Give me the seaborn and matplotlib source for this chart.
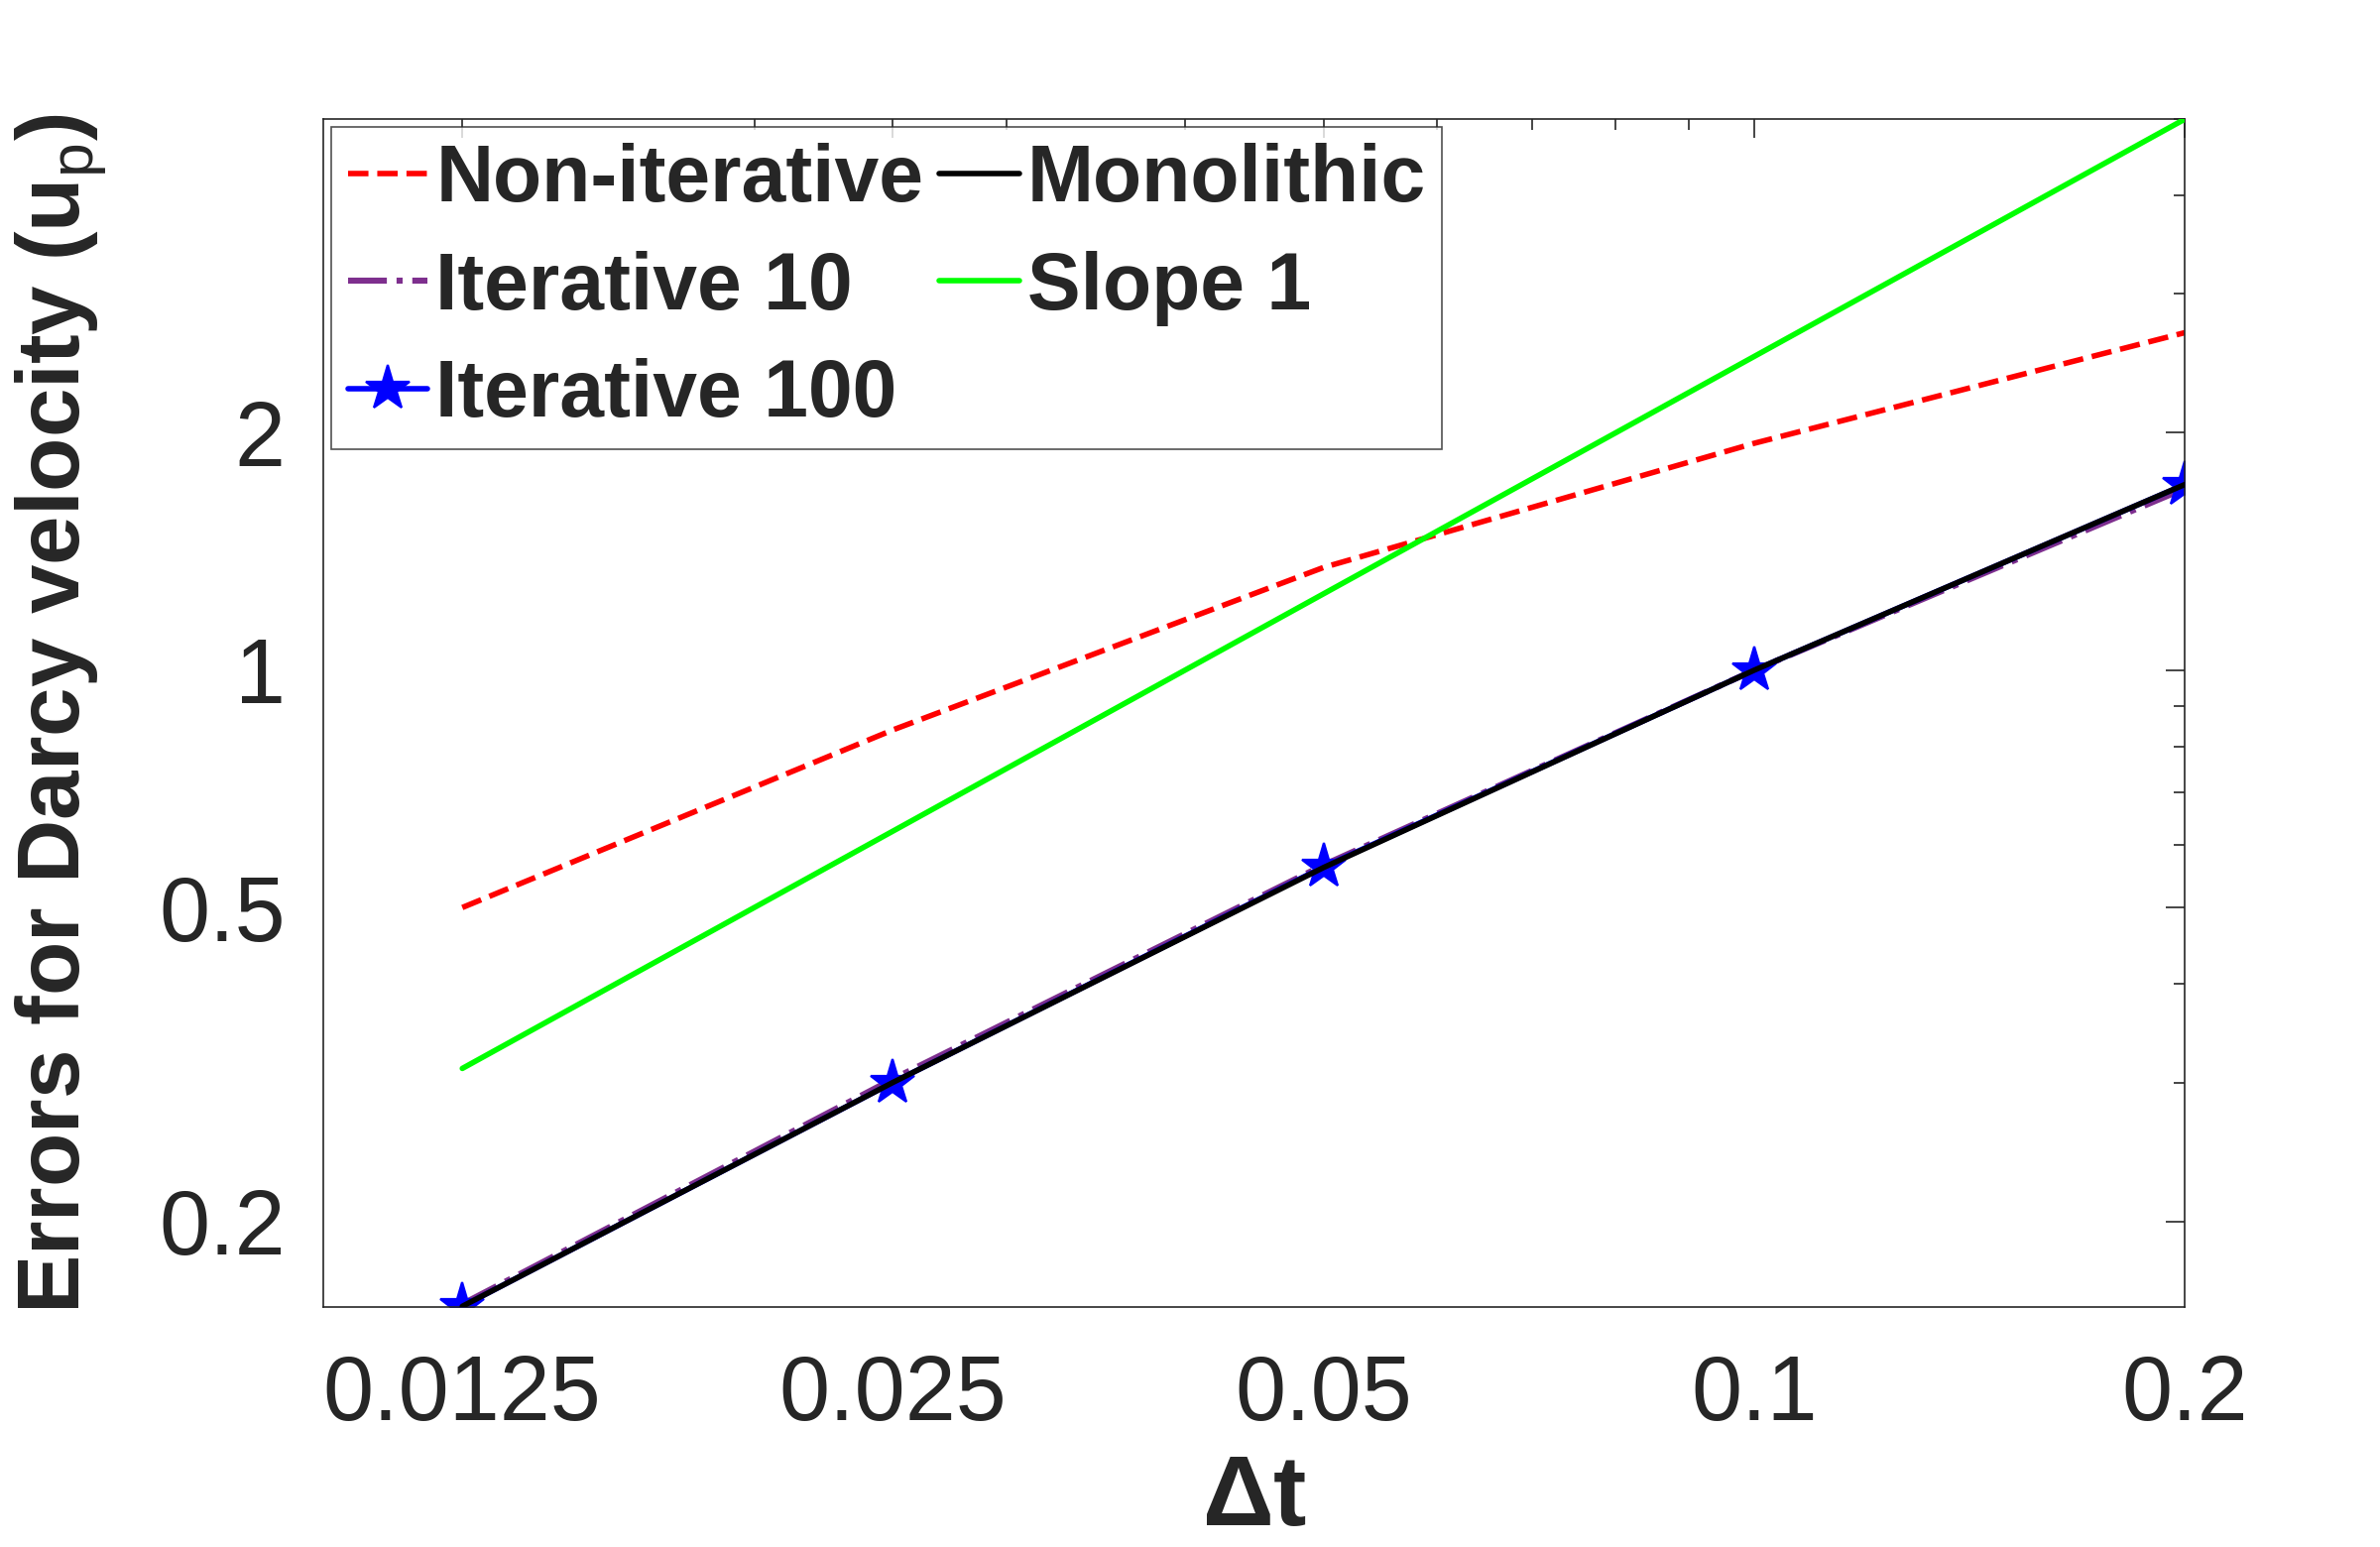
import numpy as np
import pandas as pd
import matplotlib
matplotlib.use("Agg")
import matplotlib.pyplot as plt
import matplotlib.ticker as mticker
import seaborn as sns

# time steps
dt = [0.0125, 0.025, 0.05, 0.1, 0.2]

# errors
err_noniter = [0.50, 0.84, 1.35, 1.94, 2.68]
err_iter10 = [0.157, 0.303, 0.566, 1.0, 1.70]
err_iter100 = [0.156, 0.300, 0.563, 1.0, 1.72]
err_mono = [0.156, 0.300, 0.562, 1.0, 1.72]
slope_ref = [0.3125, 0.625, 1.25, 2.5, 5.0]

xticks = [0.0125, 0.025, 0.05, 0.1, 0.2]
xticklabels = ["0.0125", "0.025", "0.05", "0.1", "0.2"]
yticks = [0.2, 0.5, 1, 2]
yticklabels = ["0.2", "0.5", "1", "2"]

sns.set_style("white")
plt.rcParams["font.family"] = ["Liberation Sans", "DejaVu Sans"]
plt.rcParams["mathtext.fontset"] = "custom"
plt.rcParams["mathtext.rm"] = "Liberation Sans"
plt.rcParams["mathtext.bf"] = "Liberation Sans:bold"

fig = plt.figure(figsize=(12, 7.8), dpi=200)
ax = fig.add_axes([0.136, 0.155, 0.782, 0.768])

sns.lineplot(x=dt, y=err_noniter, ax=ax, color="#ff0000", lw=2.0,
             linestyle="--", label="Non-iterative", zorder=2)
sns.lineplot(x=dt, y=err_iter10, ax=ax, color="#7e2f8e", lw=2.2,
             linestyle="-.", label="Iterative 10", zorder=2)
sns.lineplot(x=dt, y=err_iter100, ax=ax, color="#0000ff", lw=2.0,
             marker="*", markersize=17, markeredgecolor="#0000ff",
             markeredgewidth=0.8, label="Iterative 100", zorder=2)
sns.lineplot(x=dt, y=err_mono, ax=ax, color="black", lw=2.0,
             label="Monolithic", zorder=3)
sns.lineplot(x=dt, y=slope_ref, ax=ax, color="#00ff00", lw=2.0,
             label="Slope 1", zorder=3)

ax.set_xscale("log")
ax.set_yscale("log")
ax.set_xlim(0.01, 0.2)
ax.set_ylim(0.1556, 5.0)

ax.xaxis.set_major_locator(mticker.FixedLocator(xticks))
ax.xaxis.set_major_formatter(mticker.FixedFormatter(xticklabels))
ax.xaxis.set_minor_locator(mticker.LogLocator(base=10, subs=np.arange(2, 10)))
ax.xaxis.set_minor_formatter(mticker.NullFormatter())
ax.yaxis.set_major_locator(mticker.FixedLocator(yticks))
ax.yaxis.set_major_formatter(mticker.FixedFormatter(yticklabels))
ax.yaxis.set_minor_locator(mticker.LogLocator(base=10, subs=np.arange(2, 10)))
ax.yaxis.set_minor_formatter(mticker.NullFormatter())

ax.tick_params(which="both", direction="in", top=True, right=True,
               color="#262626", width=0.6)
ax.tick_params(which="major", length=7, labelsize=33, pad=14,
               labelcolor="#262626")
ax.tick_params(axis="x", which="major", pad=17)
ax.tick_params(which="minor", length=4)
for s in ax.spines.values():
    s.set_color("#262626")
    s.set_linewidth(0.6)

ax.set_xlabel(r"$\mathbf{\Delta t}$", fontsize=36, fontweight="bold", labelpad=5)
ax.set_ylabel(r"Errors for Darcy velocity (u$_{\mathrm{p}}$)", fontsize=32,
              fontweight="bold", labelpad=18)

# legend in matlab order (two columns, filled column by column)
h, l = ax.get_legend_handles_labels()
order = ["Non-iterative", "Iterative 10", "Iterative 100", "Monolithic", "Slope 1"]
hh = [h[l.index(k)] for k in order]
leg = ax.legend(hh, order, ncol=2, loc="upper left", bbox_to_anchor=(0.0, 1.0),
                prop={"weight": "bold", "size": 29}, frameon=True, fancybox=False,
                handlelength=1.0, handletextpad=0.1, columnspacing=0.2,
                labelspacing=0.4, borderpad=0.2, borderaxespad=0.1)
leg.get_frame().set_edgecolor("#262626")
leg.get_frame().set_linewidth(0.6)

plt.savefig("out.png", dpi=200)
